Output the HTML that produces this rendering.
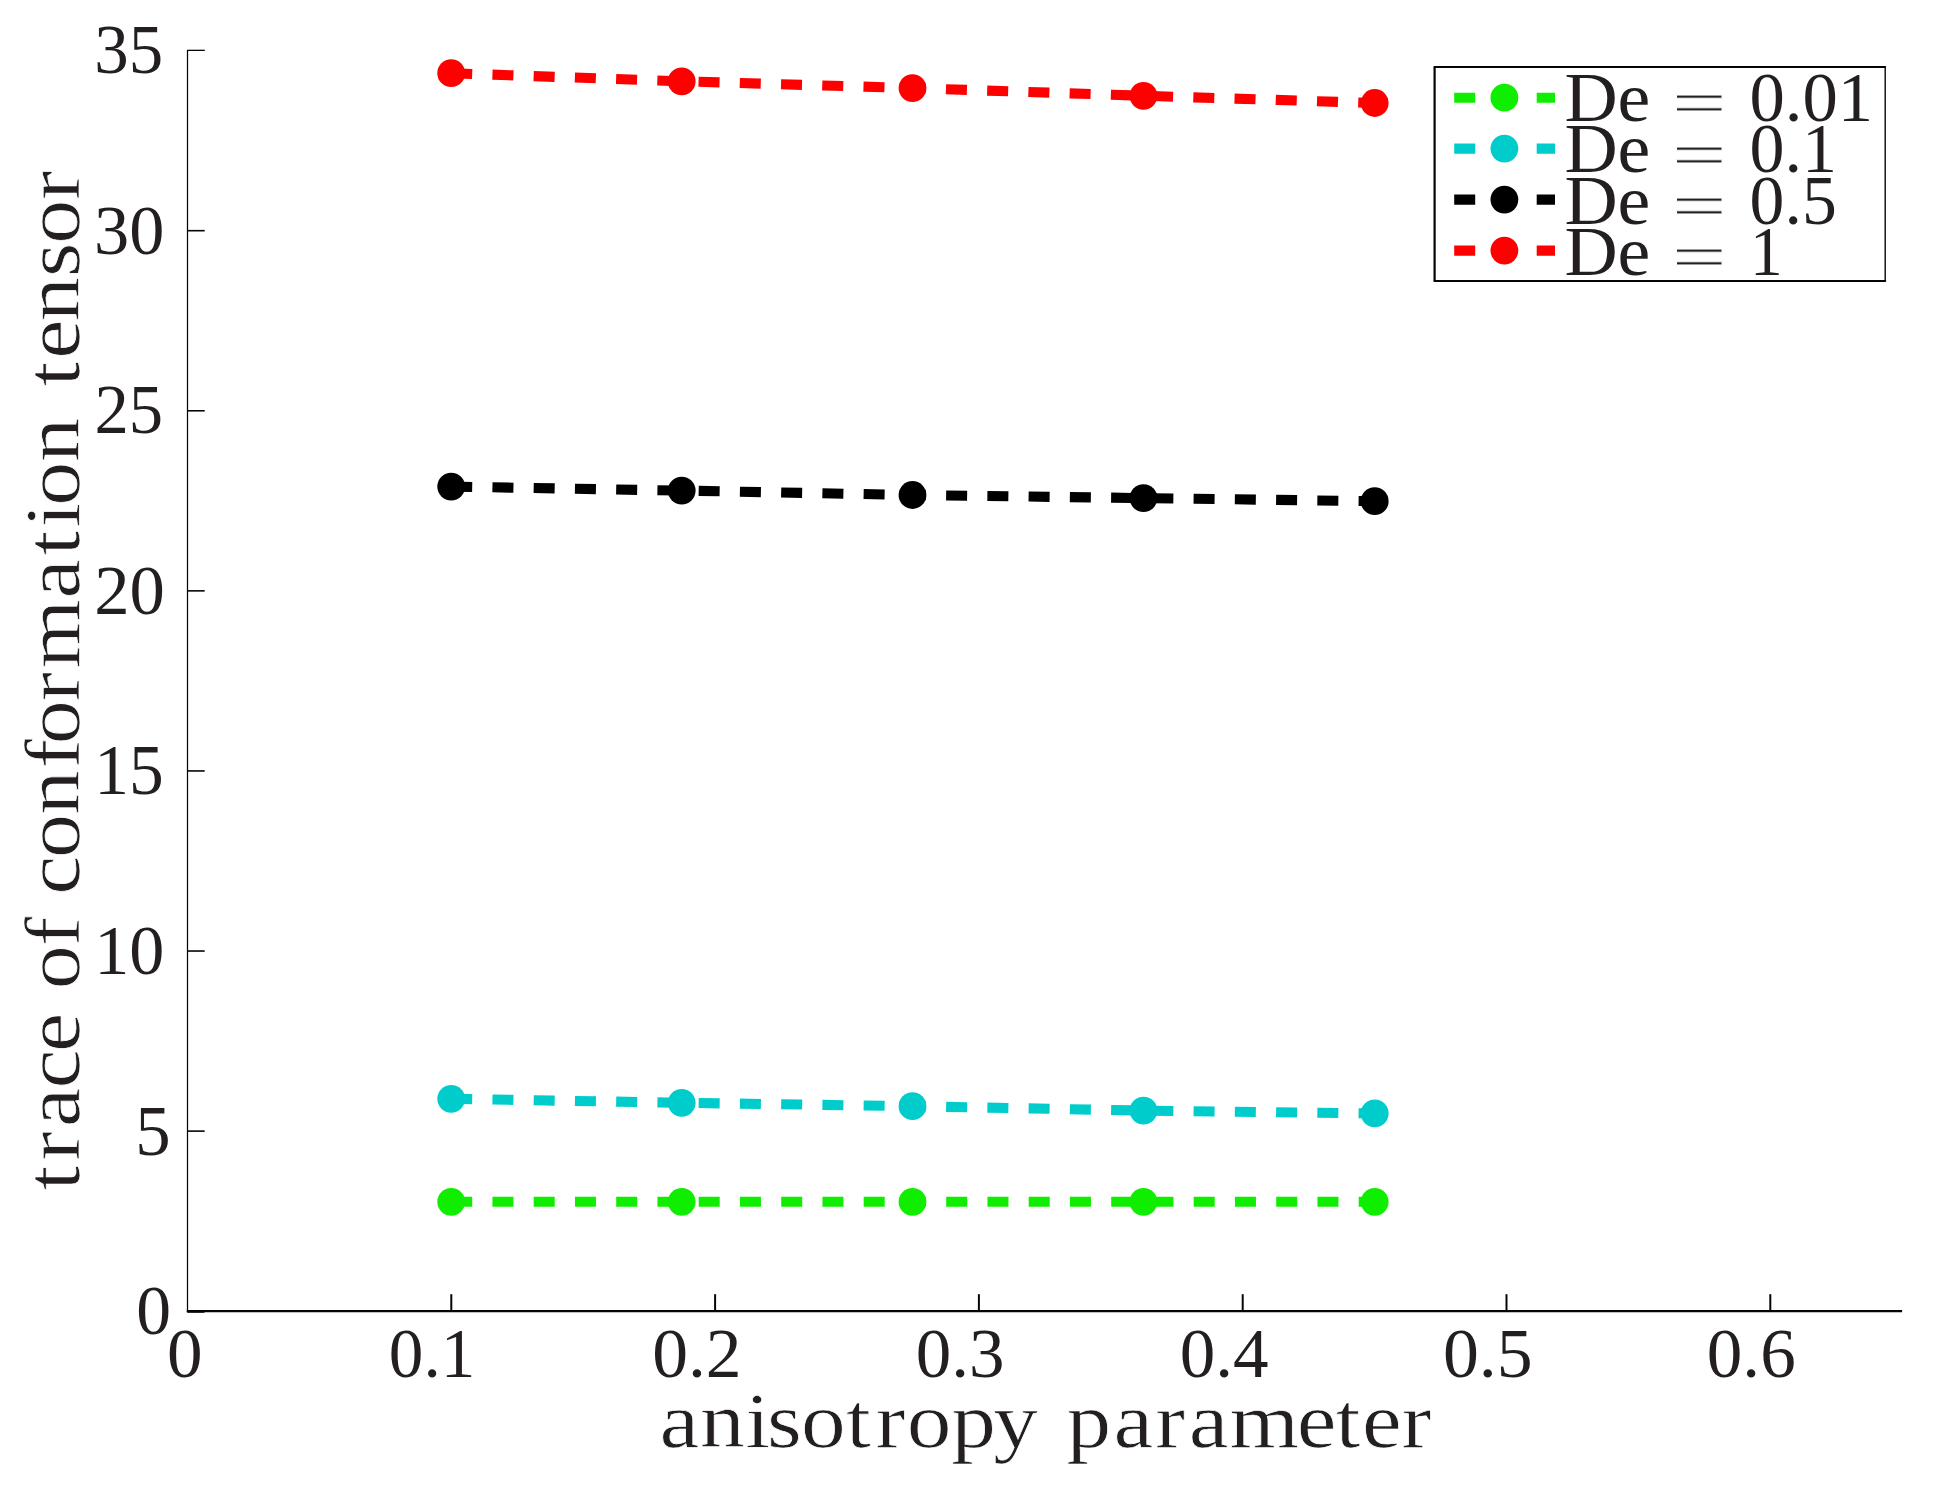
<!DOCTYPE html>
<html lang="en"><head><meta charset="utf-8"><title>trace of conformation tensor vs anisotropy parameter</title>
<style>html,body{margin:0;padding:0;background:#fff}body{width:1934px;height:1493px;overflow:hidden}svg{display:block}text{font-family:'Liberation Serif', 'DejaVu Serif', serif;fill:#231f20}</style></head><body>
<svg width="1934" height="1493" viewBox="0 0 1934 1493">
<rect width="1934" height="1493" fill="#fff"/>
<g stroke="#050505" fill="none" stroke-linecap="butt">
<line x1="187.5" y1="50.0" x2="187.5" y2="1312.3" stroke-width="1.25"/>
<line x1="186.8" y1="1311.2" x2="1902.1" y2="1311.2" stroke-width="2.2"/>
<line x1="187.5" y1="1131.11" x2="204.70" y2="1131.11" stroke-width="1.6"/>
<line x1="187.5" y1="951.03" x2="204.70" y2="951.03" stroke-width="1.6"/>
<line x1="187.5" y1="770.94" x2="204.70" y2="770.94" stroke-width="1.6"/>
<line x1="187.5" y1="590.86" x2="204.70" y2="590.86" stroke-width="1.6"/>
<line x1="187.5" y1="410.77" x2="204.70" y2="410.77" stroke-width="1.6"/>
<line x1="187.5" y1="230.69" x2="204.70" y2="230.69" stroke-width="1.6"/>
<line x1="187.2" y1="50.35" x2="204.80" y2="50.35" stroke-width="1.3"/>
<line x1="451.30" y1="1311.2" x2="451.30" y2="1294.20" stroke-width="2"/>
<line x1="715.10" y1="1311.2" x2="715.10" y2="1294.20" stroke-width="2"/>
<line x1="978.90" y1="1311.2" x2="978.90" y2="1294.20" stroke-width="2"/>
<line x1="1242.70" y1="1311.2" x2="1242.70" y2="1294.20" stroke-width="2"/>
<line x1="1506.50" y1="1311.2" x2="1506.50" y2="1294.20" stroke-width="2"/>
<line x1="1770.30" y1="1311.2" x2="1770.30" y2="1294.20" stroke-width="2"/>
<line x1="187.5" y1="1311.5" x2="204.5" y2="1311.5" stroke-width="2.6"/>
</g>
<polyline points="451.2,1201.8 681.7,1201.8 912.5,1201.8 1143.5,1201.8 1374.7,1201.8" fill="none" stroke="#10ee00" stroke-width="10.1" stroke-dasharray="21.0 20.25" stroke-linejoin="round"/>
<circle cx="451.2" cy="1201.8" r="13.9" fill="#10ee00"/>
<circle cx="681.7" cy="1201.8" r="13.9" fill="#10ee00"/>
<circle cx="912.5" cy="1201.8" r="13.9" fill="#10ee00"/>
<circle cx="1143.5" cy="1201.8" r="13.9" fill="#10ee00"/>
<circle cx="1374.7" cy="1201.8" r="13.9" fill="#10ee00"/>
<polyline points="451.2,1098.8 681.7,1102.8 912.5,1106.2 1143.5,1110.6 1374.7,1113.4" fill="none" stroke="#00cccc" stroke-width="10.1" stroke-dasharray="21.0 20.25" stroke-linejoin="round"/>
<circle cx="451.2" cy="1098.8" r="13.9" fill="#00cccc"/>
<circle cx="681.7" cy="1102.8" r="13.9" fill="#00cccc"/>
<circle cx="912.5" cy="1106.2" r="13.9" fill="#00cccc"/>
<circle cx="1143.5" cy="1110.6" r="13.9" fill="#00cccc"/>
<circle cx="1374.7" cy="1113.4" r="13.9" fill="#00cccc"/>
<polyline points="451.2,486.6 681.7,490.6 912.5,495.0 1143.5,498.1 1374.7,501.2" fill="none" stroke="#000000" stroke-width="10.1" stroke-dasharray="21.0 20.25" stroke-linejoin="round"/>
<circle cx="451.2" cy="486.6" r="13.9" fill="#000000"/>
<circle cx="681.7" cy="490.6" r="13.9" fill="#000000"/>
<circle cx="912.5" cy="495.0" r="13.9" fill="#000000"/>
<circle cx="1143.5" cy="498.1" r="13.9" fill="#000000"/>
<circle cx="1374.7" cy="501.2" r="13.9" fill="#000000"/>
<polyline points="451.2,73.2 681.7,81.3 912.5,88.1 1143.5,95.8 1374.7,103.0" fill="none" stroke="#ff0000" stroke-width="10.1" stroke-dasharray="21.0 20.25" stroke-linejoin="round"/>
<circle cx="451.2" cy="73.2" r="13.9" fill="#ff0000"/>
<circle cx="681.7" cy="81.3" r="13.9" fill="#ff0000"/>
<circle cx="912.5" cy="88.1" r="13.9" fill="#ff0000"/>
<circle cx="1143.5" cy="95.8" r="13.9" fill="#ff0000"/>
<circle cx="1374.7" cy="103.0" r="13.9" fill="#ff0000"/>
<rect x="1434.6" y="67.1" width="450.6" height="213.9" fill="#fff"/>
<g stroke="#050505" stroke-linecap="round" fill="none">
<line x1="1434.6" y1="67.1" x2="1434.6" y2="281.0" stroke-width="2.2"/>
<line x1="1434.6" y1="67.1" x2="1885.2" y2="67.1" stroke-width="2.0"/>
<line x1="1885.2" y1="67.1" x2="1885.2" y2="281.0" stroke-width="1.4"/>
<line x1="1434.6" y1="281.0" x2="1885.2" y2="281.0" stroke-width="2.1"/>
</g>
<line x1="1454.2" y1="97.7" x2="1555" y2="97.7" stroke="#10ee00" stroke-width="10.1" stroke-dasharray="21.0 20.25"/>
<circle cx="1504.4" cy="97.7" r="13.9" fill="#10ee00"/>
<line x1="1454.2" y1="148.6" x2="1555" y2="148.6" stroke="#00cccc" stroke-width="10.1" stroke-dasharray="21.0 20.25"/>
<circle cx="1504.4" cy="148.6" r="13.9" fill="#00cccc"/>
<line x1="1454.2" y1="199.6" x2="1555" y2="199.6" stroke="#000000" stroke-width="10.1" stroke-dasharray="21.0 20.25"/>
<circle cx="1504.4" cy="199.6" r="13.9" fill="#000000"/>
<line x1="1454.2" y1="250.6" x2="1555" y2="250.6" stroke="#ff0000" stroke-width="10.1" stroke-dasharray="21.0 20.25"/>
<circle cx="1504.4" cy="250.6" r="13.9" fill="#ff0000"/>
<g>
<text transform="translate(94.25 73.20) scale(0.9791 1)" font-size="70.37">35</text>
<text transform="translate(94.08 253.60) scale(1.0015 1)" font-size="70.22">30</text>
<text transform="translate(94.51 433.10) scale(0.9805 1)" font-size="70.00">25</text>
<text transform="translate(94.22 614.29) scale(0.9985 1)" font-size="70.81">20</text>
<text transform="translate(94.35 794.38) scale(0.9638 1)" font-size="72.03">15</text>
<text transform="translate(94.18 974.00) scale(1.0065 1)" font-size="69.78">10</text>
<text transform="translate(135.25 1154.68) scale(0.9863 1)" font-size="71.73">5</text>
<text transform="translate(136.26 1334.20) scale(0.9981 1)" font-size="69.78">0</text>
<text transform="translate(166.95 1377.30) scale(1.0224 1)" font-size="69.63">0</text>
<text transform="translate(388.83 1376.96) scale(1.0014 1)" font-size="69.12">0.1</text>
<text transform="translate(652.14 1376.96) scale(1.0359 1)" font-size="69.12">0.2</text>
<text transform="translate(915.66 1376.96) scale(1.0288 1)" font-size="69.12">0.3</text>
<text transform="translate(1179.75 1376.96) scale(1.0291 1)" font-size="69.12">0.4</text>
<text transform="translate(1442.93 1376.96) scale(1.0387 1)" font-size="69.12">0.5</text>
<text transform="translate(1706.75 1376.96) scale(1.0299 1)" font-size="69.12">0.6</text>
<text transform="translate(1564.39 120.80) scale(1.0684 1)" font-size="69.01">De</text>
<text stroke="#fff" stroke-width="0.8" fill="#0a0505" transform="translate(1671.39 124.26) scale(1.5551 1)" font-size="63.20">=</text>
<text transform="translate(1749.47 120.80) scale(1.0172 1)" font-size="69.47">0.01</text>
<text transform="translate(1564.39 172.30) scale(1.0684 1)" font-size="69.01">De</text>
<text stroke="#fff" stroke-width="0.8" fill="#0a0505" transform="translate(1671.39 175.76) scale(1.5551 1)" font-size="63.20">=</text>
<text transform="translate(1749.50 172.30) scale(1.0088 1)" font-size="69.47">0.1</text>
<text transform="translate(1564.39 223.50) scale(1.0684 1)" font-size="69.01">De</text>
<text stroke="#fff" stroke-width="0.8" fill="#0a0505" transform="translate(1671.39 226.96) scale(1.5551 1)" font-size="63.20">=</text>
<text transform="translate(1749.61 223.50) scale(1.0039 1)" font-size="69.47">0.5</text>
<text transform="translate(1564.39 274.90) scale(1.0684 1)" font-size="69.01">De</text>
<text stroke="#fff" stroke-width="0.8" fill="#0a0505" transform="translate(1671.39 278.36) scale(1.5551 1)" font-size="63.20">=</text>
<text transform="translate(1749.91 274.90) scale(0.9418 1)" font-size="69.47">1</text>
<g stroke="#fff" stroke-width="0.7">
<text transform="translate(0 1447.20) scale(1.1467 1)" font-size="78.00" x="575.19 610.54 649.99 668.83 698.58 737.72 763.44 790.71 829.54 866.30 905.30 930.17 971.07 1007.54 1036.74 1072.16 1130.90 1164.65 1187.80 1222.12" xml:space="preserve">anisotropy parameter</text>
<text transform="translate(79.30 0) rotate(-90) scale(1.1321 1)" font-size="78.00" x="-1051.45 -1025.32 -995.51 -961.42 -929.29 -890.29 -873.78 -835.78 -796.78 -790.36 -757.84 -719.67 -678.82 -657.36 -619.69 -590.24 -528.62 -490.48 -465.97 -446.68 -407.99 -368.99 -341.24 -316.87 -283.70 -244.76 -215.38 -176.61" xml:space="preserve">trace of conformation tensor</text>
</g>
</g>
</svg></body></html>
